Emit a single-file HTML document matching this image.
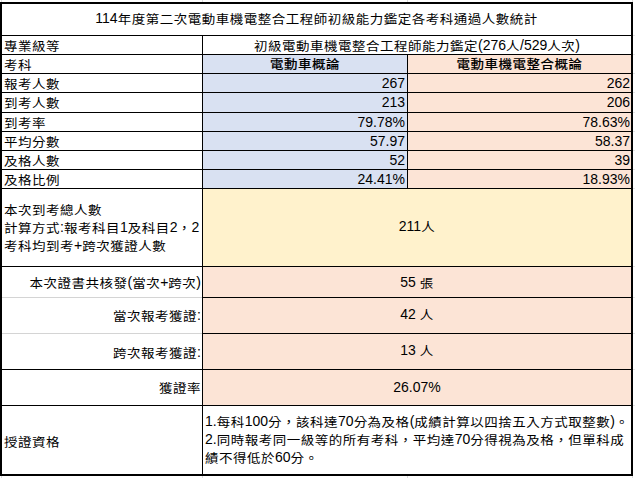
<!DOCTYPE html>
<html lang="zh-Hant">
<head>
<meta charset="utf-8">
<style>
html,body{margin:0;padding:0;background:#fff;}
body{width:635px;height:478px;position:relative;overflow:hidden;
  font-family:"Liberation Sans","Noto Sans CJK TC",sans-serif;font-size:14.5px;color:#000;font-weight:400;}
.a{position:absolute;box-sizing:border-box;}
.l{position:absolute;background:#000;}
.g{position:absolute;background:#d4d4d4;}
.t{position:absolute;display:flex;align-items:center;white-space:nowrap;line-height:18px;}
.t>div{position:relative;top:0px;}
.c{justify-content:center;}
.r{justify-content:flex-end;}
.blue{background:#d9e1f2;}
.pink{background:#fce4d6;}
.yel{background:#fff2cc;}
b{font-weight:500;-webkit-text-stroke:0.1px #000;}
.n{font-size:14px;display:inline-block;white-space:pre;line-height:14px;transform:translateY(-0.7px) scaleY(1.1);}
.k{font-size:13.5px;letter-spacing:0.5px;display:inline-block;line-height:14px;transform:translateY(1.2px) scaleY(0.9);transform-origin:50% 50%;}
</style>
</head>
<body>
<!-- fills -->
<div class="a blue" style="left:203px;top:55px;width:204px;height:133px;"></div>
<div class="a pink" style="left:408px;top:55px;width:223px;height:133px;"></div>
<div class="a yel" style="left:203px;top:189px;width:428px;height:77px;"></div>
<div class="a pink" style="left:203px;top:267px;width:428px;height:138px;"></div>
<!-- faint outside gridlines -->
<div class="a" style="left:1px;top:0;width:1px;height:2px;background:#dcdcdc;"></div>
<div class="a" style="left:1px;top:476px;width:1px;height:2px;background:#dcdcdc;"></div>
<div class="a" style="left:202px;top:0;width:1px;height:2px;background:#dcdcdc;"></div>
<div class="a" style="left:202px;top:476px;width:1px;height:2px;background:#dcdcdc;"></div>
<div class="a" style="left:407px;top:0;width:1px;height:2px;background:#dcdcdc;"></div>
<div class="a" style="left:407px;top:476px;width:1px;height:2px;background:#dcdcdc;"></div>
<div class="a" style="left:632px;top:0;width:1px;height:2px;background:#dcdcdc;"></div>
<div class="a" style="left:632px;top:476px;width:1px;height:2px;background:#dcdcdc;"></div>
<div class="a" style="left:633px;top:35px;width:2px;height:1px;background:#e4e4e4;"></div>
<div class="a" style="left:633px;top:54px;width:2px;height:1px;background:#e4e4e4;"></div>
<div class="a" style="left:633px;top:73px;width:2px;height:1px;background:#e4e4e4;"></div>
<div class="a" style="left:633px;top:92px;width:2px;height:1px;background:#e4e4e4;"></div>
<div class="a" style="left:633px;top:112px;width:2px;height:1px;background:#e4e4e4;"></div>
<div class="a" style="left:633px;top:131px;width:2px;height:1px;background:#e4e4e4;"></div>
<div class="a" style="left:633px;top:150px;width:2px;height:1px;background:#e4e4e4;"></div>
<div class="a" style="left:633px;top:169px;width:2px;height:1px;background:#e4e4e4;"></div>
<div class="a" style="left:633px;top:188px;width:2px;height:1px;background:#e4e4e4;"></div>
<div class="a" style="left:633px;top:266px;width:2px;height:1px;background:#e4e4e4;"></div>
<div class="a" style="left:633px;top:297px;width:2px;height:1px;background:#e4e4e4;"></div>
<div class="a" style="left:633px;top:333px;width:2px;height:1px;background:#e4e4e4;"></div>
<div class="a" style="left:633px;top:369px;width:2px;height:1px;background:#e4e4e4;"></div>
<div class="a" style="left:633px;top:405px;width:2px;height:1px;background:#e4e4e4;"></div>
<!-- outer border -->
<div class="a" style="left:0;top:2px;width:633px;height:474px;border:2px solid #000;"></div>
<!-- horizontal lines -->
<div class="l" style="left:2px;top:35px;width:629px;height:1px;"></div>
<div class="l" style="left:2px;top:54px;width:629px;height:1px;"></div>
<div class="l" style="left:2px;top:73px;width:629px;height:1px;"></div>
<div class="l" style="left:2px;top:92px;width:629px;height:1px;"></div>
<div class="l" style="left:2px;top:112px;width:629px;height:1px;"></div>
<div class="l" style="left:2px;top:131px;width:629px;height:1px;"></div>
<div class="l" style="left:2px;top:150px;width:629px;height:1px;"></div>
<div class="l" style="left:2px;top:169px;width:629px;height:1px;"></div>
<div class="l" style="left:2px;top:188px;width:629px;height:1px;"></div>
<div class="l" style="left:2px;top:266px;width:629px;height:1px;"></div>
<div class="l" style="left:2px;top:369px;width:629px;height:1px;"></div>
<div class="l" style="left:2px;top:405px;width:629px;height:1px;"></div>
<div class="g" style="left:2px;top:297px;width:200px;height:1px;"></div>
<div class="l" style="left:202px;top:297px;width:429px;height:1px;"></div>
<div class="g" style="left:2px;top:333px;width:200px;height:1px;"></div>
<div class="l" style="left:202px;top:333px;width:429px;height:1px;"></div>
<!-- vertical lines -->
<div class="l" style="left:202px;top:35px;width:1px;height:439px;"></div>
<div class="l" style="left:407px;top:54px;width:1px;height:135px;"></div>
<div class="t c" style="left:2px;top:4px;width:629px;height:31px;"><div style="top:-1.625px"><span class="n">114</span><span class="k">年度第二次電動車機電整合工程師初級能力鑑定各考科通過人數統計</span></div></div>
<div class="t " style="left:4px;top:36px;width:198px;height:18px;"><div style="top:-0.125px"><span class="k">專業級等</span></div></div>
<div class="t c" style="left:203px;top:36px;width:428px;height:18px;"><div style="top:-0.125px"><span class="k">初級電動車機電整合工程師能力鑑定</span><span class="n">(276</span><span class="k">人</span><span class="n">/529</span><span class="k">人次</span><span class="n">)</span></div></div>
<div class="t " style="left:4px;top:55px;width:198px;height:18px;"><div style="top:-0.125px"><span class="k">考科</span></div></div>
<div class="t c" style="left:203px;top:55px;width:204px;height:18px;"><div style="top:-1.125px"><b><span class="k">電動車概論</span></b></div></div>
<div class="t c" style="left:408px;top:55px;width:223px;height:18px;"><div style="top:-1.125px"><b><span class="k">電動車機電整合概論</span></b></div></div>
<div class="t " style="left:4px;top:74px;width:198px;height:18px;"><div style="top:-0.125px"><span class="k">報考人數</span></div></div>
<div class="t r" style="left:203px;top:74px;width:202px;height:18px;"><div style="top:-0.125px"><span class="n">267</span></div></div>
<div class="t r" style="left:408px;top:74px;width:222px;height:18px;"><div style="top:-0.125px"><span class="n">262</span></div></div>
<div class="t " style="left:4px;top:93px;width:198px;height:19px;"><div style="top:-0.125px"><span class="k">到考人數</span></div></div>
<div class="t r" style="left:203px;top:93px;width:202px;height:19px;"><div style="top:-0.125px"><span class="n">213</span></div></div>
<div class="t r" style="left:408px;top:93px;width:222px;height:19px;"><div style="top:-0.125px"><span class="n">206</span></div></div>
<div class="t " style="left:4px;top:113px;width:198px;height:18px;"><div style="top:-0.125px"><span class="k">到考率</span></div></div>
<div class="t r" style="left:203px;top:113px;width:202px;height:18px;"><div style="top:-0.125px"><span class="n">79.78%</span></div></div>
<div class="t r" style="left:408px;top:113px;width:222px;height:18px;"><div style="top:-0.125px"><span class="n">78.63%</span></div></div>
<div class="t " style="left:4px;top:132px;width:198px;height:18px;"><div style="top:-0.125px"><span class="k">平均分數</span></div></div>
<div class="t r" style="left:203px;top:132px;width:202px;height:18px;"><div style="top:-0.125px"><span class="n">57.97</span></div></div>
<div class="t r" style="left:408px;top:132px;width:222px;height:18px;"><div style="top:-0.125px"><span class="n">58.37</span></div></div>
<div class="t " style="left:4px;top:151px;width:198px;height:18px;"><div style="top:-0.125px"><span class="k">及格人數</span></div></div>
<div class="t r" style="left:203px;top:151px;width:202px;height:18px;"><div style="top:-0.125px"><span class="n">52</span></div></div>
<div class="t r" style="left:408px;top:151px;width:222px;height:18px;"><div style="top:-0.125px"><span class="n">39</span></div></div>
<div class="t " style="left:4px;top:170px;width:198px;height:18px;"><div style="top:-0.125px"><span class="k">及格比例</span></div></div>
<div class="t r" style="left:203px;top:170px;width:202px;height:18px;"><div style="top:-0.125px"><span class="n">24.41%</span></div></div>
<div class="t r" style="left:408px;top:170px;width:222px;height:18px;"><div style="top:-0.125px"><span class="n">18.93%</span></div></div>
<div class="t " style="left:4px;top:189px;width:198px;height:77px;line-height:18px;"><div style="top:-0.625px"><span class="k">本次到考總人數</span><br><span class="k">計算方式</span><span class="n">:</span><span class="k">報考科目</span><span class="n">1</span><span class="k">及科目</span><span class="n">2</span><span class="k">，</span><span class="n">2</span><br><span class="k">考科均到考</span><span class="n">+</span><span class="k">跨次獲證人數</span></div></div>
<div class="t c" style="left:203px;top:189px;width:428px;height:77px;"><div style="top:-1.625px"><span class="n">211</span><span class="k">人</span></div></div>
<div class="t r" style="left:2px;top:267px;width:199px;height:30px;"><div style="top:-0.125px"><span class="k">本次證書共核發</span><span class="n">(</span><span class="k">當次</span><span class="n">+</span><span class="k">跨次</span><span class="n">)</span></div></div>
<div class="t c" style="left:203px;top:267px;width:428px;height:30px;"><div style="top:-0.125px"><span class="n">55 </span><span class="k">張</span></div></div>
<div class="t r" style="left:2px;top:298px;width:199px;height:35px;"><div style="top:-0.625px"><span class="k">當次報考獲證</span><span class="n">:</span></div></div>
<div class="t c" style="left:203px;top:298px;width:428px;height:35px;"><div style="top:-1.625px"><span class="n">42 </span><span class="k">人</span></div></div>
<div class="t r" style="left:2px;top:334px;width:199px;height:35px;"><div style="top:0.375px"><span class="k">跨次報考獲證</span><span class="n">:</span></div></div>
<div class="t c" style="left:203px;top:334px;width:428px;height:35px;"><div style="top:-1.625px"><span class="n">13 </span><span class="k">人</span></div></div>
<div class="t r" style="left:2px;top:370px;width:199px;height:35px;"><div style="top:-0.625px"><span class="k">獲證率</span></div></div>
<div class="t c" style="left:203px;top:370px;width:428px;height:35px;"><div style="top:-0.625px"><span class="n">26.07%</span></div></div>
<div class="t " style="left:4px;top:406px;width:198px;height:68px;"><div style="top:0.875px"><span class="k">授證資格</span></div></div>
<div class="t " style="left:205px;top:406px;width:425px;height:68px;"><div style="top:-1.125px"><span class="n">1.</span><span class="k">每科</span><span class="n">100</span><span class="k">分，該科達</span><span class="n">70</span><span class="k">分為及格</span><span class="n">(</span><span class="k">成績計算以四捨五入方式取整數</span><span class="n">)</span><span class="k">。</span><br><span class="n">2.</span><span class="k">同時報考同一級等的所有考科，平均達</span><span class="n">70</span><span class="k">分得視為及格，但單科成</span><br><span class="k">績不得低於</span><span class="n">60</span><span class="k">分。</span></div></div>
</body>
</html>
